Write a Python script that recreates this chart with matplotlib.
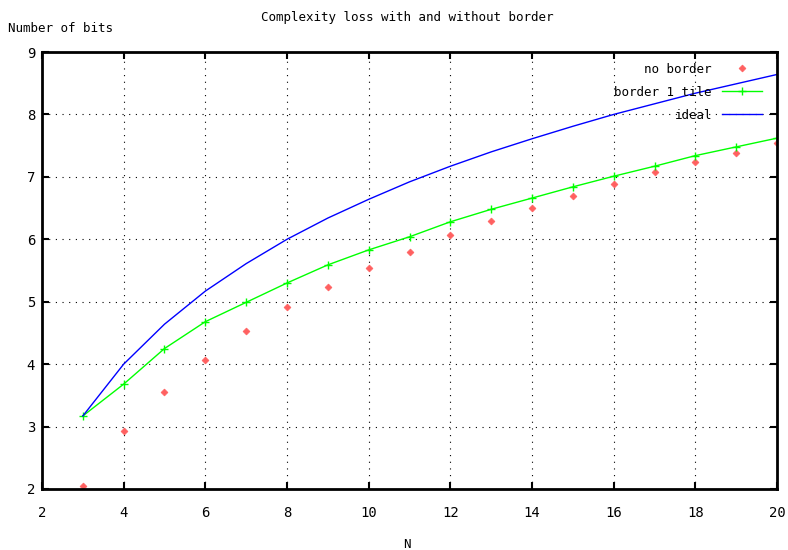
import matplotlib
matplotlib.use('Agg')
import matplotlib.pyplot as plt

# values
n = [3, 4, 5, 6, 7, 8, 9, 10, 11, 12, 13, 14, 15, 16, 17, 18, 19, 20]
no_border = [2.05, 2.93, 3.56, 4.06, 4.53, 4.92, 5.24, 5.54, 5.80, 6.07, 6.29, 6.50,
             6.70, 6.89, 7.07, 7.23, 7.39, 7.54]
border_1 = [3.17, 3.68, 4.25, 4.68, 4.99, 5.30, 5.59, 5.83, 6.04, 6.28, 6.48, 6.66,
            6.84, 7.01, 7.17, 7.34, 7.48, 7.62]
ideal = [3.17, 4.00, 4.64, 5.17, 5.61, 6.00, 6.34, 6.64, 6.92, 7.17, 7.40, 7.61,
         7.81, 8.00, 8.17, 8.34, 8.49, 8.64]

plt.rcParams['font.family'] = ['DejaVu Sans Mono']
plt.rcParams['font.size'] = 9

fig = plt.figure(figsize=(7.88, 5.5), dpi=100)
ax = fig.add_axes([42/788, 1-489/550, 735/788, 437/550])

ax.plot(n, no_border, linestyle='none', marker='D', markersize=3.5,
        color='#ff6060', markeredgewidth=0.5, label='no border')
ax.plot(n, border_1, color='#00ff00', marker='+', markersize=5.5,
        linewidth=1.0, label='border 1 tile')
ax.plot(n, ideal, color='#0000ff', linewidth=1.0, label='ideal')

ax.set_xlim(2, 20)
ax.set_ylim(2, 9)
ax.set_xticks(range(2, 21, 2))
ax.set_yticks(range(2, 10))
ax.grid(True, color='black', linestyle=(0, (1, 5)), linewidth=0.8)
ax.tick_params(direction='in', top=True, right=True, length=5, width=1.5)
ax.tick_params(axis='x', pad=12, labelsize=10)
ax.tick_params(axis='y', pad=5, labelsize=10)
for s in ax.spines.values():
    s.set_linewidth(2)

fig.text(407/788, 1-18/550, 'Complexity loss with and without border', ha='center', va='center')
fig.text(8/788, 1-29/550, 'Number of bits', ha='left', va='center')
fig.text(407/788, 1-544/550, 'N', ha='center', va='center')

ax.legend(loc='upper right', frameon=False, markerfirst=False,
          handlelength=3.2, borderaxespad=0.45, labelspacing=0.8,
          bbox_to_anchor=(0.994, 1.0))

fig.savefig('out.png', dpi=100)
